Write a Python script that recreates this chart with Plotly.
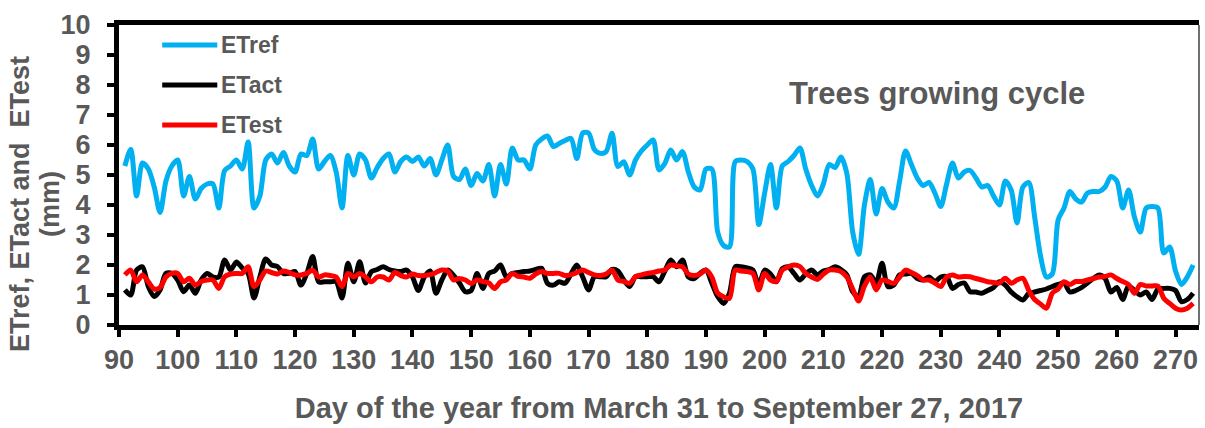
import plotly.graph_objects as go

# Day of year (DOY) for each daily record
days = list(range(91, 274))

# Reference evapotranspiration (mm)
et_ref = [
    5.3, 5.85, 4.3, 5.4, 5.2, 4.6, 3.75, 4.8, 5.3, 5.5,
    4.3, 4.95, 4.2, 4.55, 4.7, 4.7, 3.9, 5.15, 5.3, 5.5,
    5.2, 6.1, 3.9, 4.3, 5.5, 5.7, 5.4, 5.75, 5.3, 5.1,
    5.7, 5.65, 6.2, 5.2, 5.45, 5.65, 5.1, 3.9, 5.65, 5.0,
    5.7, 5.5, 4.9, 5.25, 5.55, 5.7, 5.1, 5.45, 5.6, 5.45,
    5.6, 5.3, 5.55, 5.0, 5.5, 6.0, 4.95, 4.85, 5.2, 4.65,
    5.05, 4.8, 5.35, 4.3, 5.35, 4.7, 5.9, 5.5, 5.5, 5.2,
    6.0, 6.2, 6.3, 5.95, 6.05, 6.15, 6.22, 5.55, 6.4, 6.4,
    5.85, 5.72, 5.78, 6.39, 5.28, 5.44, 5.0, 5.5, 5.8, 6.0,
    6.17, 5.17, 5.39, 5.83, 5.5, 5.78, 5.1, 4.6, 4.5, 5.2,
    5.2, 3.1, 2.65, 2.6, 5.45, 5.5, 5.45, 5.2, 3.35, 4.4,
    5.35, 3.9, 5.3, 5.45, 5.65, 5.9, 5.2, 4.65, 4.3, 4.7,
    5.35, 5.25, 5.6, 5.05, 3.1, 2.35, 4.0, 4.85, 3.7, 4.55,
    4.1, 3.9, 4.8, 5.8, 5.35, 4.9, 4.65, 4.75, 4.4, 3.95,
    4.7, 5.4, 4.9, 5.1, 5.15, 4.9, 4.6, 4.65, 4.3, 4.0,
    4.8, 4.5, 3.4, 4.6, 4.75, 3.6, 2.3, 1.6, 1.7, 3.5,
    3.9, 4.45, 4.2, 4.1, 4.4, 4.45, 4.45, 4.6, 4.95, 4.8,
    3.9, 4.5, 3.6, 3.1, 3.9, 3.95, 3.9, 2.4, 2.6, 1.8,
    1.35, 1.6, 2.0,
]

# Actual evapotranspiration (mm)
et_act = [
    1.17, 1.0, 1.83, 1.94, 1.28, 0.95, 1.17, 1.72, 1.72, 1.5,
    1.11, 1.33, 1.06, 1.5, 1.72, 1.6, 1.6, 2.17, 1.83, 2.1,
    1.9, 1.72, 0.9, 1.6, 2.2, 2.0, 1.95, 1.72, 1.72, 1.78,
    1.33, 1.72, 2.28, 1.44, 1.44, 1.44, 1.44, 0.9, 2.06, 1.44,
    2.11, 1.4, 1.78, 1.85, 1.94, 1.85, 1.8, 1.78, 1.83, 1.6,
    1.15, 1.6, 1.8, 1.06, 1.5, 1.83, 1.65, 1.4, 1.11, 1.15,
    1.72, 1.22, 1.72, 1.8, 2.0, 1.6, 1.72, 1.75, 1.78, 1.8,
    1.85, 1.89, 1.39, 1.33, 1.44, 1.39, 1.7, 2.0, 1.6, 1.17,
    1.61, 1.61, 1.61, 1.85, 1.8, 1.5, 1.28, 1.61, 1.61, 1.61,
    1.61, 1.44, 1.8, 2.17, 1.94, 2.17, 1.6, 1.55, 1.72, 1.83,
    1.4, 0.95, 0.72, 1.06, 1.94, 1.94, 1.9, 1.83, 1.33, 1.83,
    1.7, 1.44, 1.88, 1.94, 1.72, 1.5, 1.7, 1.83, 1.67, 1.8,
    1.85, 1.94, 1.85, 1.67, 1.11, 0.94, 1.61, 1.67, 1.4, 2.06,
    1.28, 1.33, 1.67, 1.7, 1.72, 1.55, 1.5, 1.6, 1.45, 1.6,
    1.61, 1.22, 1.35, 1.4, 1.11, 1.1, 1.06, 1.15, 1.25, 1.44,
    1.33, 1.1, 0.94, 0.83, 1.05, 1.1, 1.15, 1.2, 1.28, 1.35,
    1.4, 1.1, 1.15, 1.25, 1.4, 1.55, 1.67, 1.55, 1.1, 1.25,
    0.85, 1.3, 1.15, 1.0, 1.1, 0.85, 1.2, 1.22, 1.22, 1.15,
    0.78, 0.85, 1.06,
]

# Estimated evapotranspiration (mm)
et_est = [
    1.67, 1.83, 1.44, 1.67, 1.44, 1.2, 1.25, 1.6, 1.72, 1.72,
    1.44, 1.56, 1.33, 1.45, 1.5, 1.5, 1.22, 1.61, 1.7, 1.72,
    1.72, 1.94, 1.28, 1.5, 1.8, 1.75, 1.7, 1.8, 1.75, 1.67,
    1.67, 1.72, 1.83, 1.6, 1.67, 1.65, 1.6, 1.28, 1.72, 1.6,
    1.72, 1.6, 1.44, 1.6, 1.6, 1.5, 1.75, 1.65, 1.6, 1.7,
    1.65, 1.65, 1.68, 1.75, 1.83, 1.8, 1.5, 1.55, 1.5, 1.39,
    1.5, 1.45, 1.4, 1.22, 1.44, 1.5, 1.72, 1.62, 1.6, 1.56,
    1.7, 1.78, 1.72, 1.72, 1.72, 1.65, 1.68, 1.75, 1.83, 1.75,
    1.67, 1.65, 1.7, 1.83, 1.5, 1.45, 1.39, 1.61, 1.67, 1.72,
    1.75, 1.8, 1.83, 2.0, 1.97, 1.94, 1.7, 1.65, 1.7, 1.83,
    1.6, 1.06, 0.94, 0.89, 1.83, 1.8, 1.78, 1.72, 1.17, 1.72,
    1.5, 1.45, 1.83, 1.94, 2.0, 1.95, 1.72, 1.6, 1.52, 1.7,
    1.83, 1.83, 1.78, 1.6, 1.2, 0.8, 1.3, 1.6, 1.17, 1.5,
    1.45, 1.39, 1.6, 1.83, 1.75, 1.65, 1.5, 1.5, 1.4, 1.28,
    1.6, 1.67, 1.6, 1.62, 1.61, 1.55, 1.5, 1.44, 1.42, 1.4,
    1.56, 1.39, 1.5, 1.56, 1.15, 0.85, 0.7, 0.56, 1.06, 1.2,
    1.44, 1.35, 1.45, 1.45, 1.5, 1.55, 1.6, 1.62, 1.67, 1.55,
    1.45, 1.35, 1.06, 1.35, 1.3, 1.3, 1.3, 0.89, 0.72, 0.56,
    0.5, 0.56, 0.72,
]

x_ticks = list(range(90, 271, 10))
y_ticks = list(range(0, 11))

FONT = "Liberation Sans, Arial, sans-serif"
GREY = "#595959"
series = [
    ("ETref", et_ref, "#00B0F0"),
    ("ETact", et_act, "#000000"),
    ("ETest", et_est, "#FF0000"),
]

fig = go.Figure()
for name, vals, color in series:
    fig.add_trace(go.Scatter(
        x=days, y=vals, name=name, mode="lines",
        line=dict(color=color, width=5, shape="spline", smoothing=0.8),
        showlegend=False,
    ))

# Hand-drawn legend in the upper-left corner of the plot area
for i, (name, _, color) in enumerate(series):
    yy = 0.933 - i * 0.133
    fig.add_shape(type="line", xref="paper", yref="paper",
                  x0=0.04, x1=0.091, y0=yy, y1=yy,
                  line=dict(color=color, width=5))
    fig.add_annotation(x=0.093, y=yy, xref="paper", yref="paper",
                       text=name, showarrow=False,
                       xanchor="left", yanchor="middle",
                       font=dict(family=FONT, size=23, color=GREY, weight="bold"))

fig.add_annotation(x=0.757, y=0.772, xref="paper", yref="paper",
                   text="Trees growing cycle", showarrow=False,
                   xanchor="center", yanchor="middle",
                   font=dict(family=FONT, size=31, color=GREY, weight="bold"))

# Thin right border of the frame
fig.add_shape(type="line", xref="paper", yref="paper", x0=1, x1=1, y0=0, y1=1,
              line=dict(color="#404040", width=1.5))

# Two-line rotated y-axis title
y_title_lines = ["ETref, ETact and  ETest", "(mm)"]
for text, xp in zip(y_title_lines, [-0.0917, -0.0639]):
    fig.add_annotation(x=xp, y=0.403, xref="paper", yref="paper",
                       text=text, showarrow=False,
                       textangle=-90, xanchor="center", yanchor="middle",
                       font=dict(family=FONT, size=27, color=GREY, weight="bold"))

fig.update_layout(
    width=1205, height=428, autosize=False,
    margin=dict(l=119, r=6, t=25, b=103),
    plot_bgcolor="white", paper_bgcolor="white",
    font=dict(family=FONT, color=GREY),
)
fig.update_xaxes(
    range=[90, 274], tickvals=x_ticks, showgrid=False, zeroline=False,
    showline=True, linecolor="black", linewidth=5, mirror=True,
    ticks="outside", ticklen=7, tickwidth=4, tickcolor="black",
    tickfont=dict(family=FONT, size=27, color=GREY, weight="bold"),
    title=dict(text="Day of the year from March 31 to September 27, 2017",
               font=dict(family=FONT, size=29, color=GREY, weight="bold"),
               standoff=25),
)
fig.update_yaxes(
    range=[0, 10], tickvals=y_ticks, showgrid=False, zeroline=False,
    showline=True, linecolor="black", linewidth=5, mirror=False,
    ticks="outside", ticklen=7, tickwidth=4, tickcolor="black",
    ticklabelstandoff=11,
    tickfont=dict(family=FONT, size=27, color=GREY, weight="bold"),
)

fig.write_html("out.html")
